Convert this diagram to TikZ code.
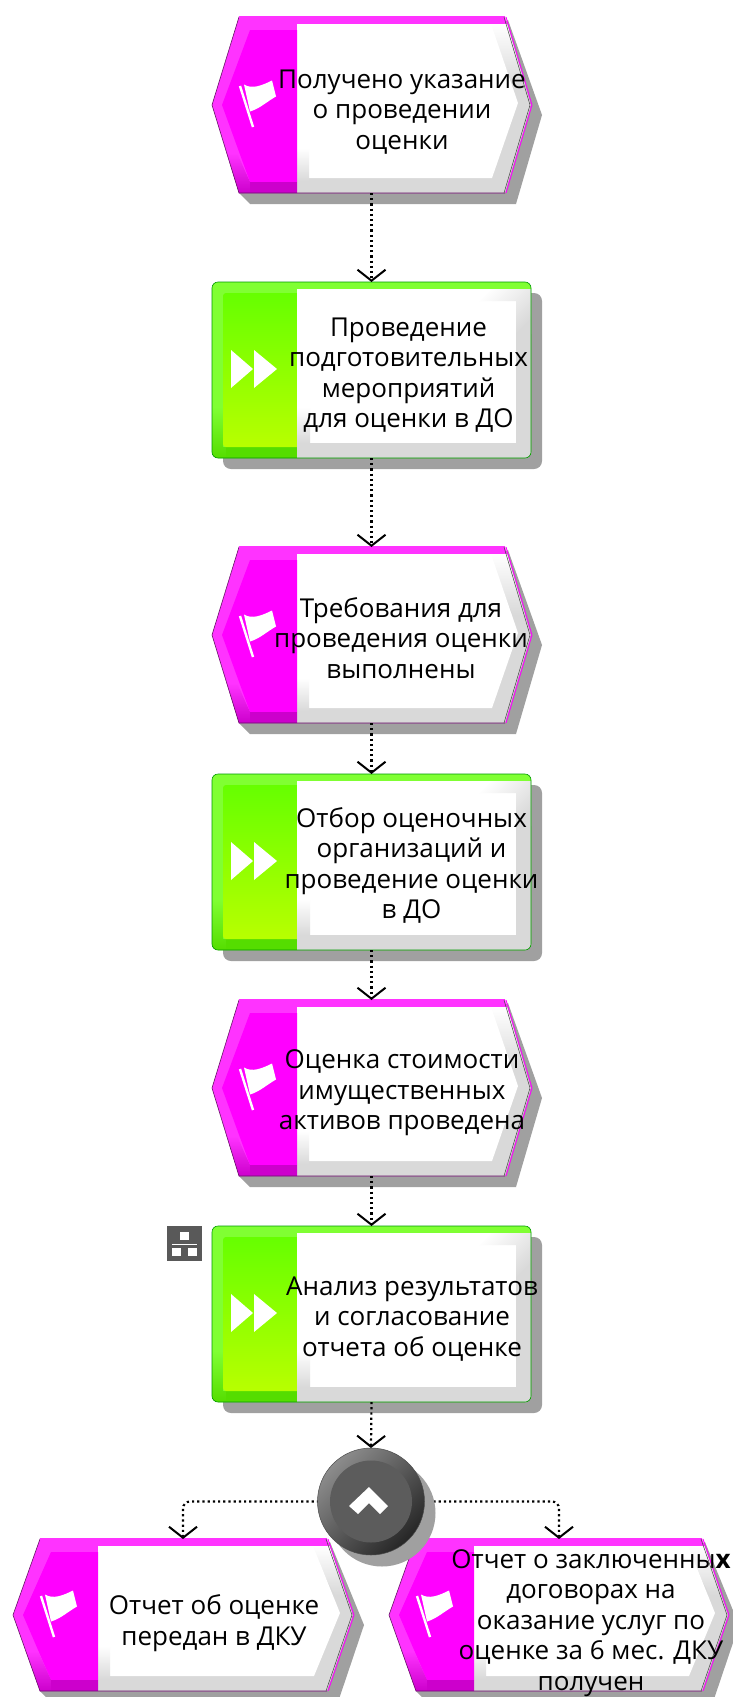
\documentclass[tikz,border=0pt]{standalone}
\usepackage{fontspec}
\setmainfont{Open Sans}
\usetikzlibrary{arrows.meta}
\definecolor{mgOut}{HTML}{FF33FF}
\definecolor{mgIn}{HTML}{FF00FF}
\definecolor{mgDark}{HTML}{CC00CC}
\definecolor{grOut}{HTML}{80FF33}
\definecolor{grTop}{HTML}{66FF00}
\definecolor{grBot}{HTML}{B8FF00}
\definecolor{grDark}{HTML}{55DD00}
\definecolor{bev}{HTML}{D9D9D9}
\definecolor{shad}{HTML}{A0A0A0}
\tikzset{
  anchorbox/.style={rectangle,inner sep=0pt,outer sep=0pt,draw=none,fill=none},
  label text/.style={inner sep=0pt,align=center,text=black,font=\fontsize{26}{30.5}\selectfont},
  flow/.style={draw=black,line width=2.2pt,dash pattern=on 2.2pt off 3pt,
    -{Straight Barb[length=11pt,width=28pt,line width=2pt]}},
}
% name, x, y, W, H
\newcommand{\evshape}[5]{%
  \begin{scope}[shift={(#2,#3)}]
    \pgfmathsetmacro{\W}{#4}\pgfmathsetmacro{\H}{#5}
    \pgfmathsetmacro{\Hm}{\H/2}
    \def\outer{(0,\Hm) -- (27,0) -- ({\W-26},0) -- (\W,\Hm) -- ({\W-26},\H) -- (27,\H) -- cycle}
    \fill[shad] ({\W-23},3) -- ({\W+11},{\Hm+10}) -- ({\W-15},{\H+11}) -- (38,{\H+11}) -- (27,\H) -- cycle;
    \fill[mgOut] \outer;
    \begin{scope}
      \clip \outer;
      \fill[bev] (85,7) rectangle (\W,\H);
      \shade[top color=white,middle color=white!35!bev,bottom color=bev]
        ({\W-45},7) -- ({\W-20},7) -- ({\W-4},{\Hm-20}) -- ({\W-18},{\Hm-20}) -- cycle;
      \fill[white] (85,7) -- ({\W-40},7) -- ({\W-13},{\Hm-2}) -- ({\W-39},{\H-15}) -- (97,{\H-15}) -- (97,{\H-45}) -- (85,{\H-45}) -- cycle;
      \shade[top color=white,bottom color=bev] (85,{\H-45}) rectangle (97,{\H-12});
      \fill[bev] (85,{\H-12}) rectangle (97,\H);
      \fill[mgIn] (10,\Hm) -- (38,13) -- (85,13) -- (85,{\H-11}) -- (38,{\H-11}) -- cycle;
      \shade[top color=mgOut,bottom color=mgDark] (0,{\H-40}) -- (25,{\H-40}) -- (38,{\H-11}) -- (85,{\H-11}) -- (85,\H) -- (27,\H) -- cycle;
      \fill[mgDark] (38,{\H-11}) rectangle (85,\H);
    \end{scope}
    \draw[mgOut!40!black,line width=.6pt] ({\W-26},0) -- (27,0) -- (0,\Hm) -- (27,\H) -- ({\W-26},\H);
    \draw[mgOut,line width=1.5pt] (27,0) -- ({\W-26},0);
    \draw[mgIn,line width=.9pt] ({\W-25},0) -- ({\W+1},\Hm) -- ({\W-25},\H);
    \draw[black!75,line width=.5pt] ({\W-27},0) -- ({\W-1},\Hm) -- ({\W-27},\H);
    \begin{scope}[shift={(0,{\Hm-88.5})}]
      \draw[white,line width=2.4pt] (28,69.5) -- (41,110.5);
      \fill[white] (32,68) .. controls (40,73) and (50,69) .. (60,64) -- (64,80)
        .. controls (55,85) and (48,92) .. (38,95) -- cycle;
    \end{scope}
    \node[anchorbox,minimum width=#4 pt,minimum height=#5 pt,anchor=north west] (#1) at (0,0) {};
  \end{scope}}
% name, x, y
\newcommand{\fnshape}[3]{%
  \begin{scope}[shift={(#2,#3)}]
    \fill[shad,rounded corners=8pt] (11,11) rectangle (330,187);
    \fill[grOut,rounded corners=6pt] (0,0) rectangle (319,176);
    \begin{scope}
      \clip[rounded corners=6pt] (0,0) rectangle (319,176);
      \shade[top color=grOut,bottom color=grDark] (0,125) -- (11,125) -- (11,165) -- (85,165) -- (85,176) -- (0,176) -- cycle;
      \fill[grDark] (14,165) rectangle (85,176);
      \shade[top color=grTop,bottom color=grBot,rounded corners=3pt] (11,11) rectangle (96,165);
      \fill[bev] (85,7) rectangle (319,176);
      \fill[white] (85,7) rectangle (304,161);
      \shade[top color=white,bottom color=bev,shading angle=45] (262,7) -- (319,7) -- (319,52) -- (304,52) -- (304,19) -- (262,19) -- cycle;
      \shade[top color=white,bottom color=bev] (85,125) rectangle (98,161);
    \end{scope}
    \draw[green!60!black,line width=.6pt,rounded corners=6pt] (0,0) rectangle (319,176);
    \fill[white] (19,68) -- (19,106) -- (41,87) -- cycle;
    \fill[white] (42,68) -- (42,106) -- (65,87) -- cycle;
    \node[anchorbox,minimum width=319pt,minimum height=176pt,anchor=north west] (#1) at (0,0) {};
  \end{scope}}
\begin{document}
\begin{tikzpicture}[x=1pt,y=-1pt]
\useasboundingbox (0,0) rectangle (732,1697);
\fill[white] (0,0) rectangle (732,1697);
\evshape{e1}{212}{17}{319}{176}
\fnshape{f1}{212}{282}
\evshape{e2}{212}{547}{319}{176}
\fnshape{f2}{212}{774}
\evshape{e3}{212}{1000}{319}{176}
\fnshape{f3}{212}{1226}
\evshape{e4}{13}{1539}{340}{152}
\evshape{e5}{389}{1539}{339}{152}

% sub-process marker
\node[anchorbox,fill=black!65,minimum size=35pt,anchor=north west] (sub) at (167,1226) {};
\fill[white] (180,1232) rectangle (189,1240);
\fill[white] (172,1243.5) rectangle (197,1245);
\fill[white] (172,1248) rectangle (181,1256);
\fill[white] (188,1248) rectangle (197,1256);

% connectors
\draw[flow] (e1.south) -- (f1.north);
\draw[flow] (f1.south) -- (e2.north);
\draw[flow] (e2.south) -- (f2.north);
\draw[flow] (f2.south) -- (e3.north);
\draw[flow] (e3.south) -- (f3.north);

% gateway
\coordinate (gwc) at (371,1501.5);
\coordinate (lt) at (183,1539);
\coordinate (rt) at (559,1539);
\draw[flow,rounded corners=7pt] (gwc) -| (lt);
\draw[flow,rounded corners=7pt] (gwc) -| (rt);
\fill[shad] (382,1513) circle (53.5);
\node[circle,minimum size=107pt,inner sep=0pt,outer sep=0pt,draw=black!70,line width=.5pt,
  shading=axis,top color=black!45,bottom color=black!85,shading angle=45] (gw) at (gwc) {};
\fill[black!64] (gw.center) circle (41);
\fill[white] (369,1487) -- (388,1506) -- (380,1514) -- (369,1503) -- (358,1514) -- (349,1506) -- cycle;
\draw[flow] (f3.south) -- (gw.north);

% labels
\node[label text] (t1) at (402,112) {Получено указание\\о проведении\\оценки};
\node[label text] (t2) at (408.5,375) {Проведение\\подготовительных\\мероприятий\\для оценки в ДО};
\node[label text] (t3) at (401,638) {Требования для\\проведения оценки\\выполнены};
\node[label text] (t4) at (411.5,865.5) {Отбор оценочных\\организаций и\\проведение оценки\\в ДО};
\node[label text] (t5) at (402,1093) {Оценка стоимости\\имущественных\\активов проведена};
\node[label text] (t6) at (412,1319) {Анализ результатов\\и согласование\\отчета об оценке};
\node[label text] (t7) at (214,1623) {Отчет об оценке\\передан в ДКУ};
\node[label text] (t8) at (591,1623) {Отчет о заключенны\textbf{х}\\договорах на\\оказание услуг по\\оценке за 6 мес. ДКУ\\получен};
\end{tikzpicture}
\end{document}
